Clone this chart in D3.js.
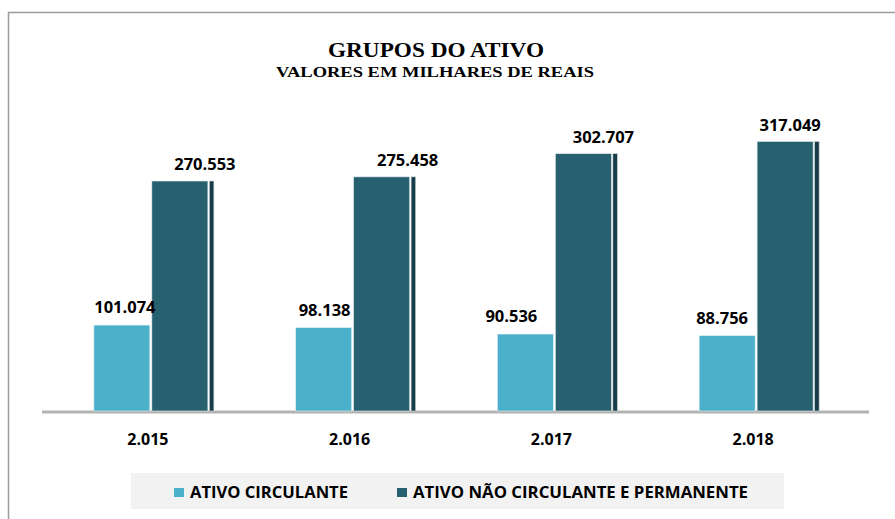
<!DOCTYPE html>
<html>
<head>
<meta charset="utf-8">
<script src="https://cdn.jsdelivr.net/npm/d3@7"></script>
<style>
  body { margin: 0; background: #fff; }
  svg { display: block; }
  .val, .cat, .leg { font-family: "Open Sans", "DejaVu Sans", sans-serif; font-weight: 700; fill: #000; }
  .ttl { font-family: "Liberation Serif", "DejaVu Serif", serif; font-weight: 700; fill: #000; }
</style>
</head>
<body>
<script>
// data
var years = ["2.015", "2.016", "2.017", "2.018"];
var circulante = [101074, 98138, 90536, 88756];
var naoCirculante = [270553, 275458, 302707, 317049];
var seriesNames = ["ATIVO CIRCULANTE", "ATIVO NÃO CIRCULANTE E PERMANENTE"];

// label nudges (excel puts them a bit off center)
var nudgeLight = [3, 1, -14, -5];
var nudgeDark = [22, 23, 17, 2];

var W = 895, H = 519;
var baseY = 411;
var colLight = "#4bb0ca", colDark = "#276170", colEdge = "#163d48";

var svg = d3.select("body").append("svg")
  .attr("width", W)
  .attr("height", H);

// frame
svg.append("rect")
  .attr("x", 8.5).attr("y", 12.5)
  .attr("width", 900).attr("height", 520)
  .attr("fill", "#fff")
  .attr("stroke", "#9c9c9c")
  .attr("stroke-width", 1.5);

// titles
svg.append("text").attr("class", "ttl")
  .attr("x", 436).attr("y", 57)
  .attr("text-anchor", "middle")
  .attr("font-size", 21)
  .attr("textLength", 216)
  .attr("lengthAdjust", "spacingAndGlyphs")
  .text("GRUPOS  DO ATIVO");
svg.append("text").attr("class", "ttl")
  .attr("x", 435).attr("y", 77)
  .attr("text-anchor", "middle")
  .attr("font-size", 15.5)
  .attr("textLength", 318)
  .attr("lengthAdjust", "spacingAndGlyphs")
  .text("VALORES EM MILHARES DE  REAIS");

var x = d3.scaleBand().domain(years).range([50, 857]).padding(0);
var y = d3.scaleLinear().domain([0, 317049]).range([baseY, 141.5]);

var barW = 56;
var fmt = function (v) { return d3.format(",")(v).replace(/,/g, "."); };

var g = svg.append("g");

// axis line
g.append("line")
  .attr("x1", 42).attr("x2", 869)
  .attr("y1", baseY + 1).attr("y2", baseY + 1)
  .attr("stroke", "#b3b3b3")
  .attr("stroke-width", 3);

years.forEach(function (yr, i) {
  var c = x(yr) + x.bandwidth() / 2;

  // light bar
  g.append("rect")
    .attr("x", c - 1 - barW).attr("y", y(circulante[i]))
    .attr("width", barW).attr("height", baseY - y(circulante[i]))
    .attr("fill", colLight)
    .attr("stroke", "#e6f2f5").attr("stroke-width", 0.6);

  // dark bar + its right edge strip
  g.append("rect")
    .attr("x", c + 1).attr("y", y(naoCirculante[i]))
    .attr("width", barW).attr("height", baseY - y(naoCirculante[i]))
    .attr("fill", colDark)
    .attr("stroke", "#dfe8ea").attr("stroke-width", 0.6);
  g.append("rect")
    .attr("x", c + barW + 2.5).attr("y", y(naoCirculante[i]))
    .attr("width", 4.5).attr("height", baseY - y(naoCirculante[i]))
    .attr("fill", colEdge)
    .attr("stroke", "#c9d3d6").attr("stroke-width", 0.6);

  g.append("text").attr("class", "val")
    .attr("x", c - 1 - barW / 2 + nudgeLight[i])
    .attr("y", y(circulante[i]) - 12)
    .attr("text-anchor", "middle")
    .attr("font-size", 16.5)
    .text(fmt(circulante[i]));

  g.append("text").attr("class", "val")
    .attr("x", c + 4 + barW / 2 + nudgeDark[i])
    .attr("y", y(naoCirculante[i]) - 11)
    .attr("text-anchor", "middle")
    .attr("font-size", 16.5)
    .text(fmt(naoCirculante[i]));

  g.append("text").attr("class", "cat")
    .attr("x", c - 3).attr("y", 445)
    .attr("text-anchor", "middle")
    .attr("font-size", 16)
    .text(yr);
});

// legend
svg.append("rect")
  .attr("x", 131).attr("y", 473)
  .attr("width", 653).attr("height", 36)
  .attr("fill", "#f2f2f2");

var legItems = [
  { name: seriesNames[0], col: colLight, x: 174, len: 158 },
  { name: seriesNames[1], col: colDark, x: 397, len: 335 }
];
legItems.forEach(function (d) {
  svg.append("rect")
    .attr("x", d.x).attr("y", 488)
    .attr("width", 10).attr("height", 9)
    .attr("fill", d.col);
  svg.append("text").attr("class", "leg")
    .attr("x", d.x + 16).attr("y", 498)
    .attr("font-size", 16.5)
    .attr("textLength", d.len)
    .attr("lengthAdjust", "spacingAndGlyphs")
    .text(d.name);
});
</script>
</body>
</html>
